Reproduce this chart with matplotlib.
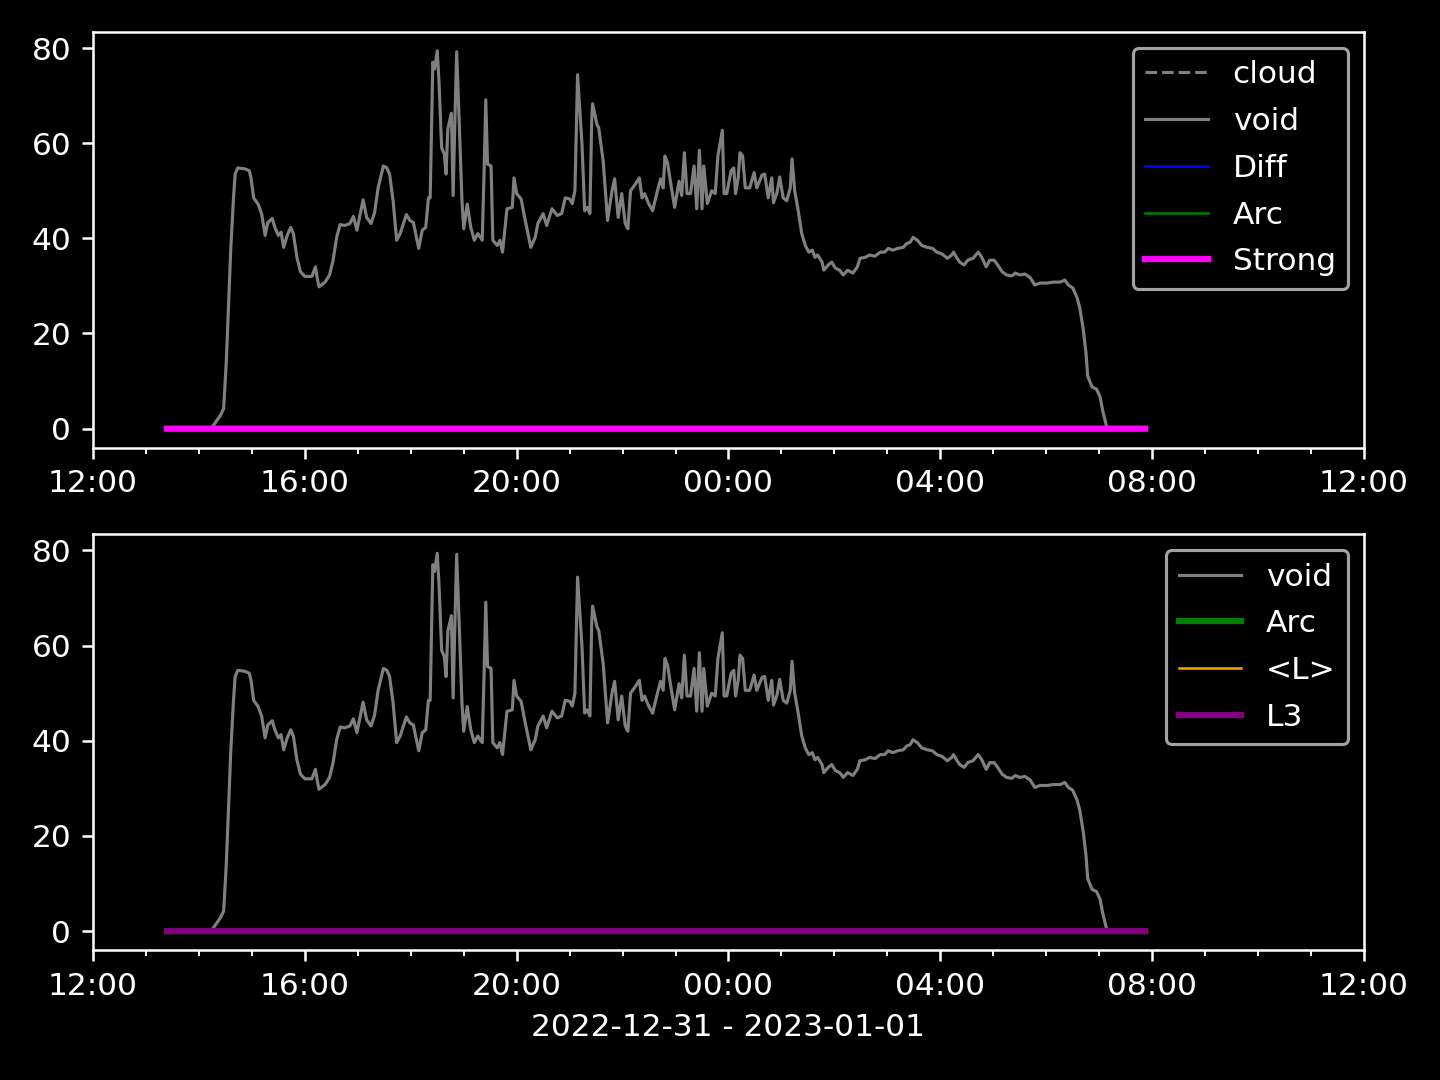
import numpy as np
import pandas as pd
import matplotlib
matplotlib.use("Agg")
import matplotlib.pyplot as plt
import matplotlib.dates as mdates

plt.style.use("dark_background")

base_time = "2022-12-31 12:00"
axis_start = "2022-12-31 12:00"
axis_end = "2023-01-01 12:00"
xlabel = "2022-12-31 - 2023-01-01"

# flat series (minutes after 12:00), value 0
flat_start_min = 84
flat_end_min = 1192

# void series: minutes after 12:00 and values
void_min = [84, 134, 136, 144, 148, 151, 153, 156, 159, 161, 164, 172, 177, 179, 182, 187, 191, 195, 198,
            203, 206, 210, 213, 216, 220, 224, 227, 231, 235, 240, 248, 252, 254, 256, 263, 268, 272,
            276, 280, 285, 291, 295, 299, 306, 310, 315, 319, 323, 329, 333, 336, 340, 344, 348, 355,
            359, 363, 366, 369, 373, 377, 380, 382, 385, 387, 390, 392, 395, 398, 400, 402, 406, 408,
            410, 412, 415, 418, 420, 424, 428, 432, 436, 441, 443, 445, 447, 451, 453, 458, 461, 464,
            469, 475, 477, 480, 485, 489, 496, 501, 504, 510, 514, 520, 526, 531, 535, 540, 543, 546,
            549, 554, 557, 560, 563, 565, 566, 571, 573, 578, 583, 588, 591, 595, 599, 603, 606, 609,
            613, 619, 622, 625, 629, 634, 639, 643, 646, 648, 651, 655, 659, 664, 667, 670, 673, 677,
            681, 684, 687, 690, 692, 696, 701, 705, 708, 713, 715, 718, 723, 726, 728, 731, 733, 736,
            739, 744, 749, 752, 758, 761, 765, 769, 771, 775, 778, 782, 786, 790, 792, 795, 799, 803,
            807, 811, 815, 818, 821, 826, 828, 833, 837, 841, 846, 850, 855, 861, 866, 869, 875, 880,
            886, 892, 897, 901, 906, 912, 918, 922, 926, 929, 934, 939, 945, 951, 956, 962, 968, 973,
            975, 979, 982, 987, 991, 997, 1003, 1007, 1012, 1016, 1021, 1025, 1030, 1035, 1041, 1045,
            1050, 1056, 1062, 1067, 1073, 1081, 1088, 1096, 1101, 1105, 1110, 1115, 1118, 1122, 1125,
            1127, 1132, 1137, 1141, 1144, 1149]
void_val = [0.0, 0.0, 0.6, 2.7, 4.2, 14.0, 23.5, 37.5, 48.0, 53.5, 54.8, 54.6, 54.2, 52.7, 48.5, 47.2,
            45.2, 40.6, 43.3, 44.2, 42.3, 40.6, 41.3, 38.1, 40.6, 42.3, 41.0, 36.0, 33.0, 32.0, 32.0,
            34.0, 31.7, 29.8, 30.8, 32.3, 35.4, 40.2, 42.9, 42.7, 43.1, 44.6, 41.7, 48.1, 44.4, 43.1,
            45.4, 50.6, 55.2, 54.8, 53.5, 47.9, 39.6, 41.0, 45.0, 43.75, 43.3, 40.6, 37.9, 41.7, 42.3,
            48.5, 48.5, 77.0, 75.6, 79.4, 72.9, 59.0, 57.7, 53.5, 63.0, 66.3, 49.0, 64.6, 79.2, 63.9,
            47.9, 42.0, 47.2, 42.3, 39.6, 41.0, 39.6, 53.5, 69.1, 55.6, 55.2, 39.6, 38.5, 39.6, 37.1,
            46.2, 46.5, 52.7, 49.4, 48.3, 44.4, 38.1, 40.2, 43.1, 45.2, 42.7, 46.2, 44.8, 45.2, 48.5,
            48.3, 47.3, 50.0, 74.4, 59.8, 45.8, 46.5, 45.2, 64.6, 68.3, 63.9, 63.2, 56.25, 43.75, 50.0,
            52.5, 44.4, 49.4, 43.1, 42.0, 50.0, 51.0, 52.7, 48.5, 49.4, 47.5, 45.8, 49.6, 52.5, 50.6,
            57.3, 55.8, 51.0, 46.5, 52.0, 49.0, 58.0, 49.4, 49.4, 55.2, 46.2, 58.5, 46.2, 55.2, 47.3,
            50.0, 49.4, 57.3, 62.7, 49.4, 49.4, 54.2, 54.8, 49.4, 52.7, 58.0, 57.3, 50.6, 50.6, 53.8,
            50.6, 53.3, 53.5, 48.5, 52.7, 47.5, 49.6, 52.9, 48.5, 47.9, 50.6, 56.7, 50.0, 45.8, 41.0,
            38.5, 37.1, 37.5, 36.0, 36.5, 35.0, 33.3, 34.4, 35.0, 33.75, 33.3, 32.3, 33.3, 32.7, 34.0,
            35.8, 36.0, 36.5, 36.25, 37.1, 37.1, 37.9, 37.5, 37.9, 38.1, 38.9, 39.2, 40.2, 39.6, 38.5,
            38.1, 37.9, 37.1, 36.7, 35.8, 36.5, 37.1, 35.8, 35.0, 34.4, 35.4, 35.8, 37.1, 36.0, 34.0,
            35.4, 35.4, 34.4, 33.0, 32.3, 32.1, 32.7, 32.3, 32.5, 31.7, 30.2, 30.6, 30.6, 30.8, 30.8,
            31.25, 30.2, 29.6, 27.5, 25.4, 20.8, 16.0, 11.0, 8.75, 8.3, 6.7, 3.75, 0.0]

top_series = [("cloud", "gray", "--", 1.0),
              ("void", "gray", "-", 1.0),
              ("Diff", "blue", "-", 0.8),
              ("Arc", "green", "-", 0.8),
              ("Strong", "magenta", "-", 2.0)]
bottom_series = [("void", "gray", "-", 1.0),
                 ("Arc", "green", "-", 2.0),
                 ("<L>", "orange", "-", 0.8),
                 ("L3", "purple", "-", 2.0)]

t0 = pd.Timestamp(base_time)
void_t = t0 + pd.to_timedelta(void_min, unit="m")
flat_t = t0 + pd.to_timedelta(np.arange(flat_start_min, flat_end_min + 1), unit="m")
flat_v = np.zeros(len(flat_t))
empty_t = pd.DatetimeIndex([])
empty_v = []

fig, axes = plt.subplots(2, 1, figsize=(6.4, 4.8), dpi=225)
fig.subplots_adjust(left=0.0646, right=0.9472, top=0.9704, bottom=0.1204, hspace=0.209)

for ax, series in zip(axes, [top_series, bottom_series]):
    for name, color, ls, lw in series:
        if name == "void":
            ax.plot(void_t, void_val, color=color, ls=ls, lw=lw, label=name)
        elif name == "cloud":
            ax.plot(empty_t, empty_v, color=color, ls=ls, lw=lw, label=name)
        else:
            ax.plot(flat_t, flat_v, color=color, ls=ls, lw=lw, label=name)
    ax.set_xlim(pd.Timestamp(axis_start), pd.Timestamp(axis_end))
    ax.set_yticks([0, 20, 40, 60, 80])
    ax.xaxis.set_major_locator(mdates.HourLocator(byhour=range(0, 24, 4)))
    ax.xaxis.set_minor_locator(mdates.HourLocator())
    ax.xaxis.set_major_formatter(mdates.DateFormatter("%H:%M"))
    ax.legend(loc="upper right", labelspacing=0.57)

axes[1].set_xlabel(xlabel)
fig.savefig("out.png", dpi=225)
